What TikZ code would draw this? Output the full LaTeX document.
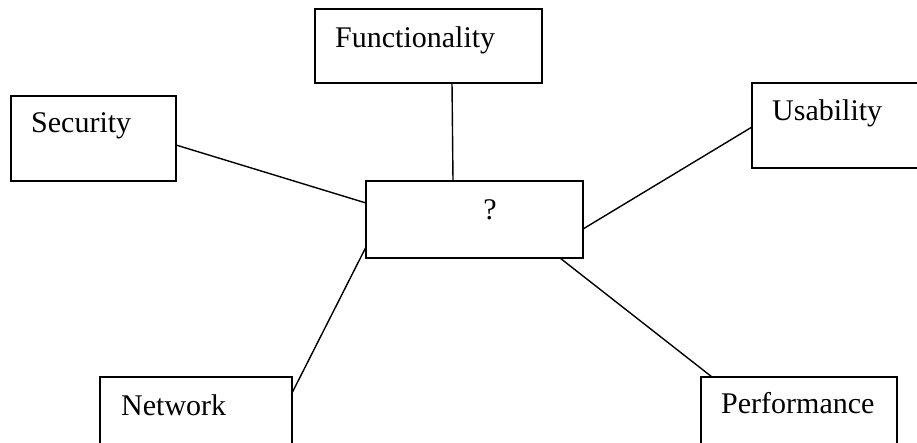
\documentclass[tikz,border=0pt]{standalone}
\usepackage{fontspec}
\setmainfont{Liberation Serif}
\usetikzlibrary{calc}
\tikzstyle{box} = [rectangle, draw, line width=1.4pt, outer sep=0pt, inner sep=0pt]
\tikzstyle{lbl} = [anchor=base west, inner sep=0pt, font=\fontsize{30}{33}\selectfont]
\tikzstyle{link} = [draw, line width=1.4pt]

\begin{document}
\begin{tikzpicture}[x=1pt, y=-1pt]
\clip (0,0) rectangle (917,442);
\useasboundingbox (0,0) rectangle (917,442);

\node [box, minimum width=227pt, minimum height=74pt] (func) at (428.5,46) {};
\node [box, minimum width=165pt, minimum height=85pt] (sec) at (93.5,138.5) {};
\node [box, minimum width=200pt, minimum height=85pt] (usa) at (852,125.5) {};
\node [box, minimum width=217pt, minimum height=77pt] (q) at (474.5,219.5) {};
\node [box, minimum width=192pt, minimum height=93pt] (net) at (196,423.5) {};
\node [box, minimum width=196pt, minimum height=93pt] (perf) at (799,423.5) {};

\node [lbl] (func_t) at ([shift={(20,38)}]func.north west) {Functionality};
\node [lbl] (sec_t) at ([shift={(20,36)}]sec.north west) {Security};
\node [lbl] (usa_t) at ([shift={(20,37)}]usa.north west) {Usability};
\node [lbl, anchor=base] (q_t) at ([shift={(124,38)}]q.north west) {?};
\node [lbl] (net_t) at ([shift={(21,38)}]net.north west) {Network};
\node [lbl] (perf_t) at ([shift={(20,36)}]perf.north west) {Performance};

\path [link] ([xshift=137pt]func.south west) to ([xshift=87pt]q.north west);
\path [link] ([yshift=-49pt]sec.north east) to ([yshift=-22pt]q.north west);
\path [link] ([yshift=-44pt]usa.north west) to ([yshift=-48pt]q.north east);
\path [link] ([yshift=-16pt]net.north east) to ([yshift=-66pt]q.north west);
\path [link] ([xshift=11pt]perf.north west) to ([xshift=194pt]q.south west);

\end{tikzpicture}
\end{document}
